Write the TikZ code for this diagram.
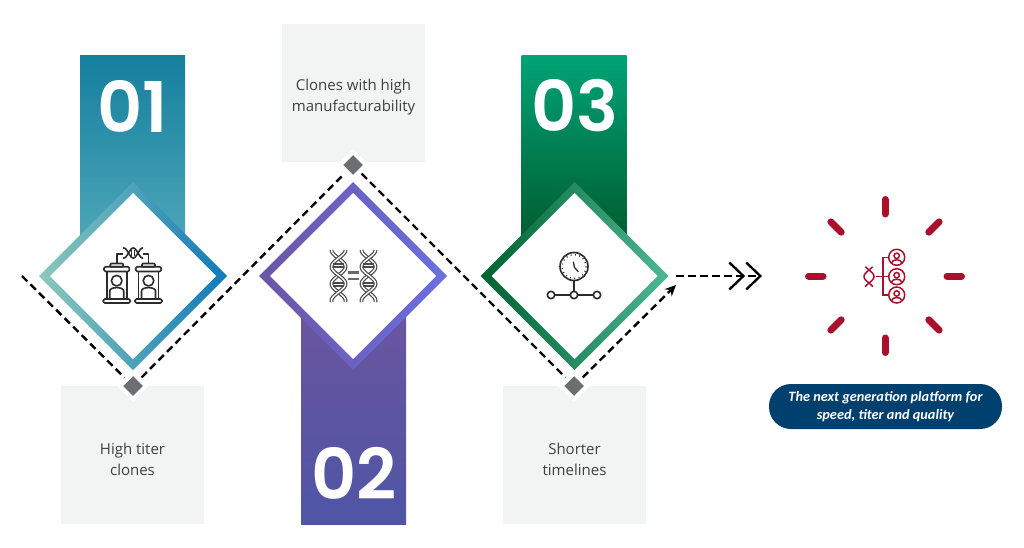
\documentclass[tikz,border=0pt]{standalone}
\usepackage{fontspec}
\setmainfont{Open Sans}
\newfontfamily\numfont[BoldFont={Poppins SemiBold}]{Poppins}
\newfontfamily\pillfont{Carlito}
\usetikzlibrary{shapes.geometric,arrows.meta}
\definecolor{boxgrey}{HTML}{F2F3F3}
\definecolor{markgrey}{HTML}{6D6E71}
\definecolor{rayred}{HTML}{A8102C}
\definecolor{pillblue}{HTML}{00406F}
\definecolor{inkgrey}{HTML}{404040}
\definecolor{iconink}{HTML}{2B2B2B}
\definecolor{baronetop}{HTML}{157F9E}
\definecolor{baronebot}{HTML}{4BA5B8}
\definecolor{bartwotop}{HTML}{6A55A0}
\definecolor{bartwobot}{HTML}{4F55A5}
\definecolor{barthreetop}{HTML}{00A376}
\definecolor{barthreebot}{HTML}{005E30}
\definecolor{ringoneleft}{HTML}{8CC8BC}
\definecolor{ringoneright}{HTML}{107AB8}
\definecolor{ringtwoleft}{HTML}{6B55A5}
\definecolor{ringtworight}{HTML}{6A70E0}
\definecolor{ringthreeleft}{HTML}{00602F}
\definecolor{ringthreeright}{HTML}{4DB795}
\tikzset{
  numbar/.style={rectangle,minimum width=105pt,inner sep=0pt,outer sep=0pt},
  numtext/.style={text=white,font=\numfont\bfseries\fontsize{70}{70}\selectfont},
  ring/.style={diamond,aspect=1,minimum size=188pt,inner sep=0pt,outer sep=0pt},
  ringcore/.style={diamond,aspect=1,minimum size=166pt,inner sep=0pt,outer sep=0pt,fill=white},
  infobox/.style={rectangle,fill=boxgrey,minimum width=143pt,minimum height=138pt,inner sep=0pt},
  infotext/.style={align=center,text=inkgrey,font=\fontsize{15}{21}\selectfont},
  marker/.style={diamond,aspect=1,minimum size=26pt,inner sep=0pt,outer sep=0pt,fill=markgrey,draw=white,line width=4.24pt},
  flow/.style={black,line width=2.4pt,dash pattern=on 7.5pt off 4.5pt},
  icon/.style={iconink,line width=1.6pt,line join=round},
  ray/.style={rayred,line width=7pt,line cap=round},
  redicon/.style={rayred,line width=1.5pt}
}
\begin{document}
\begin{tikzpicture}[x=1pt,y=-1pt]
\useasboundingbox (0,0) rectangle (1024,548);

%BARS
\node[numbar,minimum height=180pt,top color=baronetop,bottom color=baronebot] (barone) at (132.5,146) {};
\node[numbar,minimum height=209pt,top color=bartwotop,bottom color=bartwobot] (bartwo) at (353.5,419.5) {};
\node[numbar,minimum height=180pt,top color=barthreetop,bottom color=barthreebot] (barthree) at (574,146) {};
\node[numtext] (numone) at (133,106) {01};
\node[numtext] (numtwo) at (354,473) {02};
\node[numtext] (numthree) at (575,106) {03};

%INFO BOXES
\node[infobox] (boxone) at (132.5,455) {};
\node[infobox] (boxtwo) at (353.5,93.5) {};
\node[infobox] (boxthree) at (574.5,455) {};
\node[infotext] (txtone) at (132.5,459.5) {High titer\\clones};
\node[infotext] (txttwo) at (353.5,97) {Clones with high\\manufacturability};
\node[infotext] (txtthree) at (574.5,459.5) {Shorter\\timelines};

%DIAMONDS
\node[ring,left color=ringoneleft,right color=ringoneright] (ringone) at (133,276) {};
\node[ringcore] (coreone) at (133,276) {};
\node[ring,left color=ringtwoleft,right color=ringtworight] (ringtwo) at (353,276) {};
\node[ringcore] (coretwo) at (353,276) {};
\node[ring,left color=ringthreeleft,right color=ringthreeright] (ringthree) at (574.5,276) {};
\node[ringcore] (corethree) at (574.5,276) {};

%MARKERS
\node[marker] (markone) at (133,386) {};
\node[marker] (marktwo) at (353,165) {};
\node[marker] (markthree) at (574,386) {};

%FLOW LINE
\coordinate (start) at (22,276);
\coordinate (turn) at (676,285);
\coordinate (exitl) at (676,276);
\coordinate (exitr) at (762,276);
\draw[flow,shorten >=3pt] (start) -- (markone);
\draw[flow,shorten <=3pt,shorten >=3pt] (markone) -- (marktwo);
\draw[flow,shorten <=3pt,shorten >=3pt] (marktwo) -- (markthree);
\draw[flow,shorten <=3pt,-{Stealth[length=11pt,width=10pt]}] (markthree) -- (turn);
\draw[flow,-{Straight Barb[length=14pt,width=27pt]Straight Barb[length=14pt,width=27pt]}] (exitl) -- (exitr);

%ICON 1 : pods
\foreach \podx in {116.7,148.5}{
  \draw[icon,rounded corners=1pt] (\podx-6.5,266.7) rectangle (\podx+6.5,263.5);
  \draw[icon,rounded corners=1.5pt] (\podx-12.7,266.7) rectangle (\podx+12.7,271.5);
  \draw[icon,rounded corners=1.5pt] (\podx-13.5,299) rectangle (\podx+13.5,303);
  \draw[icon] (\podx-10,271.5) -- (\podx-10,299) (\podx+10,271.5) -- (\podx+10,299);
  \draw[icon] (\podx,280.7) circle (5.3);
  \draw[icon] (\podx-7,299) -- (\podx-7,291) .. controls (\podx-7,286.5) and (\podx+7,286.5) .. (\podx+7,291) -- (\podx+7,299);
}
\draw[icon] (116.7,263.5) -- (116.7,254) -- (123,254);
\draw[icon] (148.5,263.5) -- (148.5,254) -- (143,254);
\draw[icon,domain=123:143,samples=40] plot (\x,{253+5*sin(19*(\x-128.5))});
\draw[icon,domain=123:143,samples=40] plot (\x,{253-5*sin(19*(\x-128.5))});
\draw[iconink,line width=1pt] (131.5,250) -- (131.5,256) (134.5,250) -- (134.5,256);

%ICON 2 : strands
\foreach \dnax in {338.5,368.5}{
  \draw[iconink!85,line width=3.8pt,domain=250:302,samples=60] plot ({\dnax+7*sin(10.6*(\x-258.3))},\x);
  \draw[white,line width=1.4pt,domain=250:302,samples=60] plot ({\dnax+7*sin(10.6*(\x-258.3))},\x);
  \draw[iconink!85,line width=3.8pt,domain=250:302,samples=60] plot ({\dnax-7*sin(10.6*(\x-258.3))},\x);
  \draw[white,line width=1.4pt,domain=250:302,samples=60] plot ({\dnax-7*sin(10.6*(\x-258.3))},\x);
  \foreach \rungy in {264,267,283,286}
    \draw[iconink!85,line width=1.1pt] (\dnax-5.5,\rungy) -- (\dnax+5.5,\rungy);
}
\draw[iconink!70,line width=2.8pt] (347.5,272.5) -- (358.5,272.5) (347.5,279) -- (358.5,279);

%ICON 3 : clock
\draw[icon] (574,266.5) circle (14);
\draw[iconink,line width=1.4pt,dash pattern=on 0.9pt off 3.5pt] (574,266.5) circle (12);
\draw[iconink,line width=1.3pt] (573.3,261.7) -- (574.5,267.5) -- (578.3,271.7);
\draw[icon] (574,281) -- (574,291.3);
\draw[icon] (555,295) -- (570.3,295) (577.7,295) -- (593,295);
\foreach \clockx in {551,574,597}
  \draw[icon] (\clockx,295) circle (3.7);

%RAYS
\foreach \rayang in {0,45,...,315}
  \draw[ray] ([shift={(\rayang:62)}]885,276) -- ([shift={(\rayang:76.5)}]885,276);

%RED ICON
\draw[redicon,domain=266.7:286.7,samples=30] plot ({869+5*sin(13.8*(\x-270))},\x);
\draw[redicon,domain=266.7:286.7,samples=30] plot ({869-5*sin(13.8*(\x-270))},\x);
\draw[redicon] (876,276.7) -- (889,276.7) (889,257.3) -- (883,257.3) -- (883,295) -- (889,295);
\foreach \persy in {257.3,276.7,295}{
  \draw[redicon] (896.7,\persy) circle (8);
  \draw[redicon] (896.7,\persy-1.5) circle (2.7);
  \draw[redicon] (891.7,\persy+5.5) .. controls (892,\persy+1.5) and (901.4,\persy+1.5) .. (901.7,\persy+5.5);
}

%PILL
\node[rectangle,rounded corners=22pt,fill=pillblue,minimum width=233pt,minimum height=45pt,inner sep=0pt,text=white,align=center,font=\pillfont\bfseries\itshape\fontsize{14.3}{17.5}\selectfont] (pill) at (885.5,406.5) {The next generation platform for\\speed, titer and quality};

\end{tikzpicture}
\end{document}
